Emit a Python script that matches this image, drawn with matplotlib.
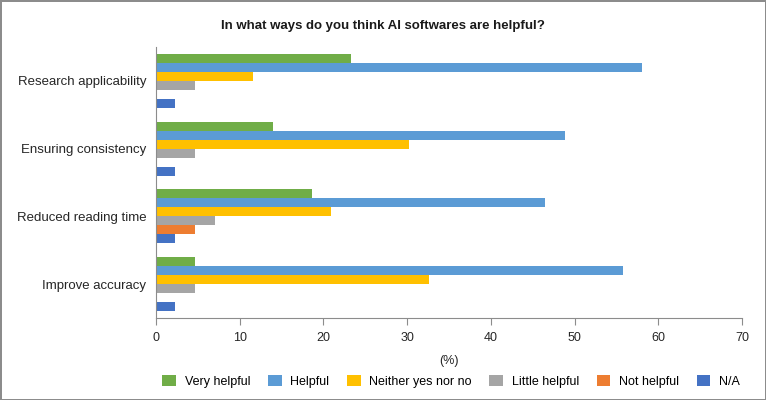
import numpy as np
import matplotlib.pyplot as plt

plt.rcParams['font.family'] = ['Liberation Sans', 'DejaVu Sans']

categories = ["Research applicability", "Ensuring consistency", "Reduced reading time", "Improve accuracy"]
series = ["Very helpful", "Helpful", "Neither yes nor no", "Little helpful", "Not helpful", "N/A"]
very_helpful = [23.3, 14.0, 18.6, 4.7]
helpful = [58.1, 48.8, 46.5, 55.8]
neither = [11.6, 30.2, 20.9, 32.6]
little_helpful = [4.7, 4.7, 7.0, 4.7]
not_helpful = [0, 0, 4.7, 0]
na = [2.3, 2.3, 2.3, 2.3]
colors = ["#70AD47", "#5B9BD5", "#FFC000", "#A5A5A5", "#ED7D31", "#4472C4"]

values = [very_helpful, helpful, neither, little_helpful, not_helpful, na]

fig = plt.figure(figsize=(7.66, 4.0), dpi=100, edgecolor="#8c8c8c", linewidth=2)
ax = fig.add_axes([156/766, 1-318/400, (742-156)/766, (318-47)/400])

y = np.arange(len(categories))
h = 0.133
for i, (name, vals) in enumerate(zip(series, values)):
    ax.barh(y - 2.5*h + i*h, vals, height=h, color=colors[i], label=name)

ax.set_ylim(3.5, -0.5)
ax.set_xlim(0, 70)
ax.set_xticks(range(0, 71, 10))
ax.set_yticks(y)
ax.set_yticklabels(categories, fontsize=9.5, color="#262626")
ax.tick_params(axis="y", length=0, pad=7)
ax.tick_params(axis="x", direction="out", length=5, color="#8c8c8c", labelsize=9, labelcolor="#262626", pad=5)
for s in ["top", "right"]:
    ax.spines[s].set_visible(False)
for s in ["left", "bottom"]:
    ax.spines[s].set_color("#8c8c8c")
ax.set_xlabel("(%)", fontsize=9, color="#262626", labelpad=8)

fig.suptitle("In what ways do you think AI softwares are helpful?", fontsize=9.5, fontweight="bold", y=0.95, color="#1a1a1a")
fig.legend(loc="center", bbox_to_anchor=(0.589, 0.047), ncol=6, frameon=False, fontsize=9,
           handlelength=1.1, handleheight=1.0, columnspacing=1.4, handletextpad=0.7)

fig.savefig("out.png", dpi=100)
